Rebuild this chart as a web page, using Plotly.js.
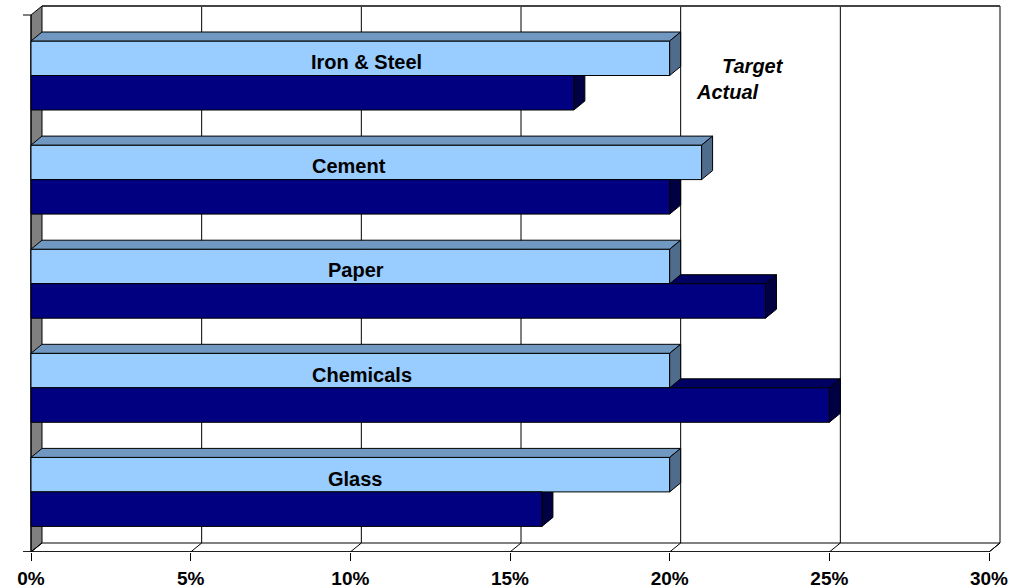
<!DOCTYPE html>
<html><head><meta charset="utf-8">
<script src="https://cdn.plot.ly/plotly-3.0.1.min.js"></script>
<style>html,body{margin:0;padding:0;background:#fff;overflow:hidden}</style>
</head><body><div id="chart" style="width:1017px;height:588px"></div>
<script>
// ---- data ----
const categories = ["Iron & Steel", "Cement", "Paper", "Chemicals", "Glass"];
const targetValues = [0.20, 0.21, 0.20, 0.20, 0.20];
const actualValues = [0.17, 0.20, 0.23, 0.25, 0.16];
const tickValues = [0, 0.05, 0.10, 0.15, 0.20, 0.25, 0.30];
const tickLabels = ["0%", "5%", "10%", "15%", "20%", "25%", "30%"];
const seriesNames = ["Target", "Actual"];

// ---- geometry (pixels) ----
const W = 1017, H = 588;
const plotLeft = 21, plotRight = 1002, plotTop = 4, plotBottom = 552;
const x0px = 31, pxPerX = 958 / 0.30;          // front-plane scale
const firstCenterPx = 75.5, groupPx = 104.1;   // category spacing
const depthXpx = 11, depthYpx = 9, barPx = 34.5;
const frontTopPx = 15;
const labelCenterPx = [366.5, 349, 356, 362, 355];

const pxToX = p => (p - x0px) / pxPerX;
const pxToY = p => (p - firstCenterPx) / groupPx;
const DX = depthXpx / pxPerX, DY = depthYpx / groupPx, BAR = barPx / groupPx;
const xMin = pxToX(plotLeft), xMax = pxToX(plotRight);
const yTopVal = pxToY(plotTop), yBotVal = pxToY(plotBottom);
const frontTop = pxToY(frontTopPx), frontBottom = pxToY(plotBottom);
const backTop = frontTop - DY, backBottom = frontBottom - DY;
const xEnd = tickValues[tickValues.length - 1];
const idx = categories.map((c, i) => i);

const colors = {
  tFront: "#99CCFF", tTop: "#7098C0", tSide: "#506C8C",
  aFront: "#000080", aTop: "#000062", aSide: "#000042",
  wall: "#808080"
};
const LINE = {color: "#000", width: 1};
const poly = pts => "M" + pts.map(p => p[0] + "," + p[1]).join(" L") + " Z";
const seg = (a, b) => "M" + a[0] + "," + a[1] + " L" + b[0] + "," + b[1];

const shapes = [];
const S = (path, fill, layer, line) => shapes.push({type: "path", xref: "x", yref: "y", path: path,
  fillcolor: fill || "rgba(0,0,0,0)", line: line || LINE, layer: layer || "below"});

// back wall
S(poly([[DX, backTop], [xEnd + DX, backTop], [xEnd + DX, backBottom], [DX, backBottom]]), "#fff", "below", {width: 0});
// back gridlines
tickValues.slice(1).forEach(t => S(seg([t + DX, backTop], [t + DX, backBottom])));
S(seg([DX, backTop], [xEnd + DX, backTop]), null, "below", {color: "#444", width: 2});
// left wall
S(poly([[0, frontTop], [DX, backTop], [DX, backBottom], [0, frontBottom]]), colors.wall);
// floor
S(poly([[0, frontBottom], [DX, backBottom], [xEnd + DX, backBottom], [xEnd, frontBottom]]), "#fff");
tickValues.forEach(t => S(seg([t, frontBottom], [t + DX, backBottom])));
// left axis ticks
S(seg([pxToX(23), frontTop], [0, frontTop]));
S(seg([pxToX(23), frontBottom], [0, frontBottom]));
S(seg([0, frontTop], [0, frontBottom]));

// actual bar faces (behind target bars)
idx.forEach(i => {
  const v = actualValues[i], top = i, bot = i + BAR;
  S(poly([[0, top], [v, top], [v + DX, top - DY], [DX, top - DY]]), colors.aTop);
  S(poly([[v, top], [v + DX, top - DY], [v + DX, bot - DY], [v, bot]]), colors.aSide);
});
// target bar faces (in front)
idx.forEach(i => {
  const v = targetValues[i], top = i - BAR, bot = i;
  S(poly([[0, top], [v, top], [v + DX, top - DY], [DX, top - DY]]), colors.tTop, "above");
  S(poly([[v, top], [v + DX, top - DY], [v + DX, bot - DY], [v, bot]]), colors.tSide, "above");
});

const FONT = "Liberation Sans, Arial, sans-serif";
const annotations = categories.map((c, i) => ({
  x: pxToX(labelCenterPx[i]), y: i - BAR / 2, xref: "x", yref: "y", text: "<b>" + c + "</b>",
  showarrow: false, xanchor: "center", yanchor: "middle", yshift: -4,
  font: {family: FONT, size: 20, color: "#000"}
}));
annotations.push({x: pxToX(753), y: pxToY(66), xref: "x", yref: "y", text: "<b><i>" + seriesNames[0] + "</i></b>",
  showarrow: false, xanchor: "center", yanchor: "middle", font: {family: FONT, size: 20, color: "#000"}});
annotations.push({x: pxToX(727), y: pxToY(92), xref: "x", yref: "y", text: "<b><i>" + seriesNames[1] + "</i></b>",
  showarrow: false, xanchor: "center", yanchor: "middle", font: {family: FONT, size: 20, color: "#000"}});

const traces = [
  {type: "bar", orientation: "h", name: seriesNames[0], y: idx, x: targetValues, width: BAR, offset: -BAR,
   marker: {color: colors.tFront, line: LINE}, hoverinfo: "skip"},
  {type: "bar", orientation: "h", name: seriesNames[1], y: idx, x: actualValues, width: BAR, offset: 0,
   marker: {color: colors.aFront, line: LINE}, hoverinfo: "skip"}
];

const layout = {
  width: W, height: H, showlegend: false, barmode: "overlay",
  paper_bgcolor: "#fff", plot_bgcolor: "rgba(0,0,0,0)",
  margin: {l: plotLeft, r: W - plotRight, t: plotTop, b: H - plotBottom, pad: 0},
  xaxis: {range: [xMin, xMax], tickvals: tickValues, ticktext: tickLabels, ticks: "outside", ticklen: 8,
    tickcolor: "#000", tickwidth: 1, showgrid: false, zeroline: false, showline: false,
    ticklabelstandoff: 1, tickfont: {family: FONT, size: 19, color: "#000", weight: "bold"}},
  yaxis: {range: [yBotVal, yTopVal], showticklabels: false, ticks: "", showgrid: false, zeroline: false, showline: false},
  shapes: shapes, annotations: annotations
};
// front floor edge line
shapes.push({type: "path", xref: "x", yref: "y", path: seg([pxToX(23), frontBottom], [xEnd, frontBottom]), line: {color: "#000", width: 1.5}, layer: "below"});

Plotly.newPlot("chart", traces, layout, {staticPlot: true, displayModeBar: false});
</script></body></html>
